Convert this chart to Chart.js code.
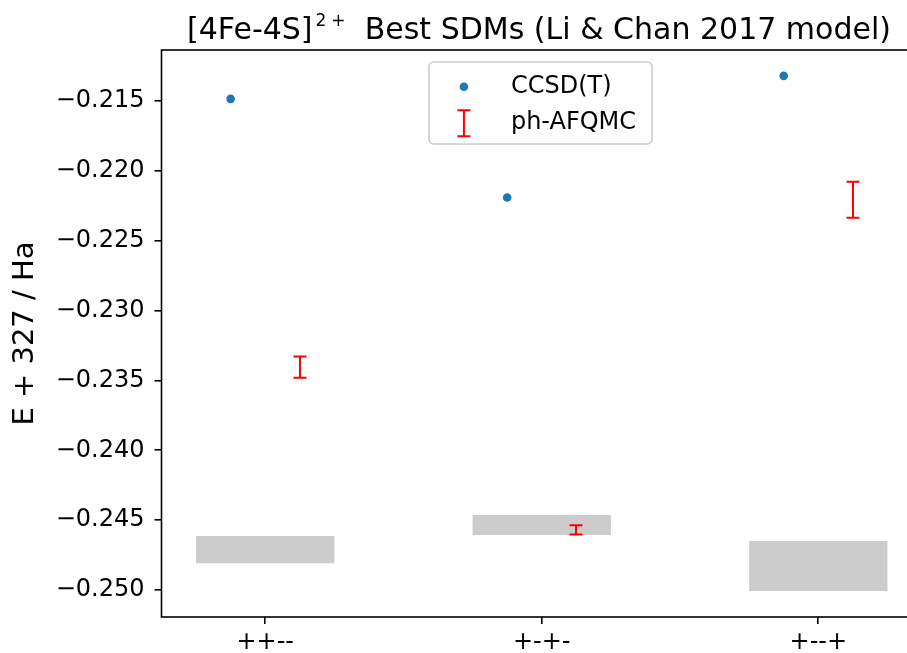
<!DOCTYPE html>
<html>
<head>
<meta charset="utf-8">
<title>[4Fe-4S]2+ Best SDMs</title>
<script src="https://cdn.jsdelivr.net/npm/chart.js@4/dist/chart.umd.min.js"></script>
<style>
  html, body { margin: 0; padding: 0; background: #fff; overflow: hidden; }
  #wrap { width: 907px; height: 653px; overflow: hidden; }
</style>
</head>
<body>
<div id="wrap"><canvas id="sdmChart" width="930" height="653"></canvas></div>
<script>
// spin configurations on the x axis
const categories = ['++--', '+-+-', '+--+'];

// CCSD(T) energies (E + 327, Ha)
const ccsdt = [-0.21486, -0.22191, -0.21321];

// ph-AFQMC energies and their statistical error
const afqmc = [-0.23405, -0.24569, -0.22207];
const afqmcErr = [0.00076, 0.00033, 0.00129];

// grey band: reference energy range per configuration
const bandLow = [-0.24809, -0.24607, -0.25007];
const bandHigh = [-0.24614, -0.24464, -0.24650];

const yTicks = [-0.250, -0.245, -0.240, -0.235, -0.230, -0.225, -0.220, -0.215];

const FONT = "'DejaVu Sans', sans-serif";
const BLUE = '#1f77b4';
const SHIFT = 0.125; // side offset of the two methods around each category

const fmtTick = v => (v < 0 ? '\u2212' : '') + Math.abs(v).toFixed(3);

// error bars with caps for the ph-AFQMC dataset
const errorBars = {
  id: 'errorBars',
  afterDatasetsDraw(chart) {
    const ds = chart.data.datasets.find(d => d.errorBars);
    if (!ds) return;
    const { x, y } = chart.scales;
    const ctx = chart.ctx;
    ctx.save();
    ctx.strokeStyle = ds.borderColor;
    ctx.lineWidth = 2;
    ds.data.forEach(p => {
      const px = Math.round(x.getPixelForValue(p.x));
      const top = y.getPixelForValue(p.y + p.err);
      const bot = y.getPixelForValue(p.y - p.err);
      ctx.beginPath();
      ctx.moveTo(px, top); ctx.lineTo(px, bot);
      ctx.moveTo(px - 6.5, top); ctx.lineTo(px + 6.5, top);
      ctx.moveTo(px - 6.5, bot); ctx.lineTo(px + 6.5, bot);
      ctx.stroke();
    });
    ctx.restore();
  }
};

// axes frame, title with superscript charge, and boxed legend
const decorations = {
  id: 'decorations',
  afterDraw(chart) {
    const ctx = chart.ctx;
    const area = chart.chartArea;
    ctx.save();
    ctx.strokeStyle = '#000';
    ctx.lineWidth = 1.6;
    ctx.strokeRect(area.left, area.top, area.right - area.left, area.bottom - area.top);

    // title
    const big = '30px ' + FONT, small = '17px ' + FONT;
    const head = '[4Fe-4S]', tail = '  Best SDMs (Li & Chan 2017 model)';
    ctx.font = big;
    const wHead = ctx.measureText(head).width;
    const wTail = ctx.measureText(tail).width;
    ctx.font = small;
    const w2 = ctx.measureText('2').width, wPlus = ctx.measureText('+').width;
    const total = wHead + 3 + w2 + 5 + wPlus + wTail;
    let tx = 539 - total / 2;
    ctx.fillStyle = '#000';
    ctx.textBaseline = 'alphabetic';
    ctx.textAlign = 'left';
    ctx.font = big;
    ctx.fillText(head, tx, 38.5);
    tx += wHead + 3;
    ctx.font = small;
    ctx.fillText('2', tx, 26);
    tx += w2 + 5;
    ctx.fillText('+', tx, 26);
    tx += wPlus;
    ctx.font = big;
    ctx.fillText(tail, tx, 38.5);

    // legend
    const items = chart.data.datasets.filter(d => d.label);
    ctx.font = '24px ' + FONT;
    const textW = Math.max(...items.map(d => ctx.measureText(d.label).width));
    const boxW = 82 + textW + 16, boxH = 82;
    const bx = 540.5 - boxW / 2, by = area.top + 12;
    ctx.beginPath();
    ctx.roundRect(bx, by, boxW, boxH, 5);
    ctx.fillStyle = 'rgba(255,255,255,0.8)';
    ctx.fill();
    ctx.strokeStyle = '#cccccc';
    ctx.lineWidth = 1.6;
    ctx.stroke();
    items.forEach((d, i) => {
      const cy = by + 24.7 + i * 36.5;
      const mx = bx + 35;
      if (d.errorBars) {
        ctx.strokeStyle = d.borderColor;
        ctx.lineWidth = 2;
        ctx.beginPath();
        ctx.moveTo(mx, cy - 13); ctx.lineTo(mx, cy + 13);
        ctx.moveTo(mx - 6.5, cy - 13); ctx.lineTo(mx + 6.5, cy - 13);
        ctx.moveTo(mx - 6.5, cy + 13); ctx.lineTo(mx + 6.5, cy + 13);
        ctx.stroke();
      } else {
        ctx.fillStyle = d.backgroundColor;
        ctx.beginPath();
        ctx.arc(mx, cy, 4.3, 0, Math.PI * 2);
        ctx.fill();
      }
      ctx.fillStyle = '#000';
      ctx.textBaseline = 'middle';
      ctx.fillText(d.label, bx + 82, cy);
    });
    ctx.restore();
  }
};

new Chart(document.getElementById('sdmChart').getContext('2d'), {
  type: 'bar',
  data: {
    datasets: [
      {
        data: categories.map((c, i) => ({ x: i, y: [bandLow[i], bandHigh[i]] })),
        backgroundColor: '#cccccc',
        borderWidth: 0,
        barPercentage: 0.5,
        categoryPercentage: 1
      },
      {
        type: 'scatter',
        label: 'CCSD(T)',
        data: ccsdt.map((v, i) => ({ x: i - SHIFT, y: v })),
        backgroundColor: BLUE,
        borderColor: BLUE,
        pointRadius: 4.3,
        pointBorderWidth: 0
      },
      {
        type: 'scatter',
        label: 'ph-AFQMC',
        errorBars: true,
        data: afqmc.map((v, i) => ({ x: i + SHIFT, y: v, err: afqmcErr[i] })),
        borderColor: '#ff0000',
        backgroundColor: '#ff0000',
        pointRadius: 0
      }
    ]
  },
  options: {
    responsive: false,
    animation: false,
    devicePixelRatio: 1,
    layout: { padding: { top: 50, right: 8, left: 0, bottom: 0 } },
    plugins: {
      legend: { display: false },
      tooltip: { enabled: false },
      title: { display: false }
    },
    scales: {
      x: {
        type: 'linear',
        min: -0.375,
        max: 2.375,
        offset: false,
        afterBuildTicks: s => { s.ticks = categories.map((c, i) => ({ value: i })); },
        afterFit: s => { s.height = 36; },
        ticks: {
          callback: v => categories[v],
          color: '#000',
          font: { family: FONT, size: 24 },
          padding: 4,
          maxRotation: 0,
          autoSkip: false
        },
        grid: { offset: false, drawOnChartArea: false, color: '#000', lineWidth: 1.6, tickLength: 7 },
        border: { display: false }
      },
      y: {
        min: -0.25193,
        max: -0.21136,
        afterBuildTicks: s => { s.ticks = yTicks.map(v => ({ value: v })); },
        afterFit: s => { s.width = 161.5; },
        ticks: {
          callback: v => fmtTick(v),
          color: '#000',
          font: { family: FONT, size: 24 },
          padding: 10
        },
        grid: { drawOnChartArea: false, color: '#000', lineWidth: 1.6, tickLength: 7 },
        border: { display: false },
        title: {
          display: true,
          text: 'E + 327 / Ha',
          color: '#000',
          font: { family: FONT, size: 29 },
          padding: { top: 8, bottom: 4 }
        }
      }
    }
  },
  plugins: [errorBars, decorations]
});
</script>
</body>
</html>
